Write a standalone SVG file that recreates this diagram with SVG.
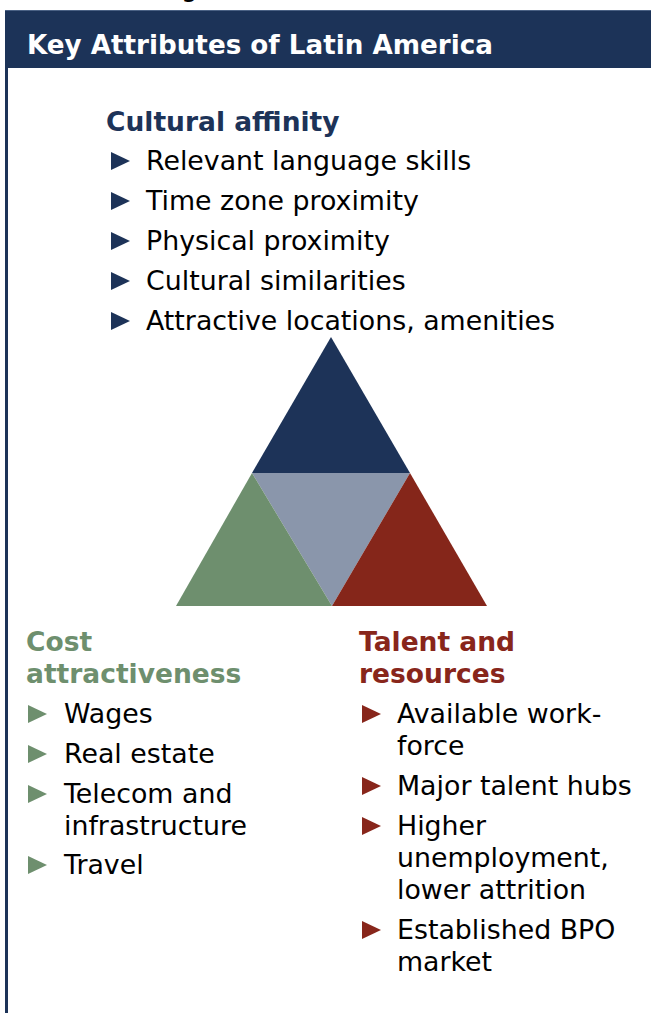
<svg xmlns="http://www.w3.org/2000/svg" width="651" height="1013" viewBox="0 0 651 1013">
  <defs>
    <style>
      .body { font-family: "DejaVu Sans", Verdana, sans-serif; font-size: 26.8px; fill: #000; }
      .head { font-family: "DejaVu Sans", Verdana, sans-serif; font-size: 26.5px; font-weight: bold; }
      .navy { fill: #1d3358; }
      .green { fill: #6e8f6e; }
      .red { fill: #88261b; }
      .title { font-family: "DejaVu Sans", Verdana, sans-serif; font-size: 26.2px; font-weight: bold; fill: #fff; }
    </style>
    <!-- bullet triangle, origin at the left-middle point -->
    <path id="tri" d="M0,-9 L19,0 L0,9 Z"/>
  </defs>

  <rect width="651" height="1013" fill="#fff"/>

  <!-- tail of the line above the panel -->
  <text class="body" x="181" y="-4">g,</text>

  <!-- panel header and frame -->
  <g id="header">
    <rect x="5" y="10" width="646" height="58" fill="#1c3358"/>
    <line x1="5" y1="10.5" x2="651" y2="10.5" stroke="#4a6184" stroke-width="1"/>
    <line x1="6.5" y1="68" x2="6.5" y2="1013" stroke="#1c3358" stroke-width="3"/>
    <text class="title" x="27" y="53.5">Key Attributes of Latin America</text>
  </g>

  <!-- pyramid -->
  <g id="pyramid">
    <polygon points="331,337 252,473 410,473" fill="#1d3358"/>
    <polygon points="252,473 410,473 332,606" fill="#8a96ab"/>
    <polygon points="252,473 176,606 332,606" fill="#6e8f6e"/>
    <polygon points="410,473 332,606 487,606" fill="#85261a"/>
  </g>

  <!-- Cultural affinity -->
  <g id="cultural-affinity">
    <text class="head navy" x="106" y="131">Cultural affinity</text>
    <g class="navy">
      <use href="#tri" x="111" y="161"/>
      <use href="#tri" x="111" y="201"/>
      <use href="#tri" x="111" y="241"/>
      <use href="#tri" x="111" y="281"/>
      <use href="#tri" x="111" y="321"/>
    </g>
    <text class="body" x="146" y="170">Relevant language skills</text>
    <text class="body" x="146" y="210">Time zone proximity</text>
    <text class="body" x="146" y="250">Physical proximity</text>
    <text class="body" x="146" y="290">Cultural similarities</text>
    <text class="body" x="146" y="330">Attractive locations, amenities</text>
  </g>

  <!-- Cost attractiveness -->
  <g id="cost-attractiveness">
    <text class="head green" x="26" y="651">Cost</text>
    <text class="head green" x="26" y="683">attractiveness</text>
    <g class="green">
      <use href="#tri" x="28" y="714"/>
      <use href="#tri" x="28" y="754"/>
      <use href="#tri" x="28" y="794"/>
      <use href="#tri" x="28" y="865"/>
    </g>
    <text class="body" x="64" y="723">Wages</text>
    <text class="body" x="64" y="763">Real estate</text>
    <text class="body" x="64" y="803">Telecom and</text>
    <text class="body" x="64" y="835">infrastructure</text>
    <text class="body" x="64" y="874">Travel</text>
  </g>

  <!-- Talent and resources -->
  <g id="talent-resources">
    <text class="head red" x="359" y="651">Talent and</text>
    <text class="head red" x="359" y="683">resources</text>
    <g class="red">
      <use href="#tri" x="362" y="714"/>
      <use href="#tri" x="362" y="786"/>
      <use href="#tri" x="362" y="826"/>
      <use href="#tri" x="362" y="930"/>
    </g>
    <text class="body" x="397" y="723">Available work-</text>
    <text class="body" x="397" y="755">force</text>
    <text class="body" x="397" y="795">Major talent hubs</text>
    <text class="body" x="397" y="835">Higher</text>
    <text class="body" x="397" y="867">unemployment,</text>
    <text class="body" x="397" y="899">lower attrition</text>
    <text class="body" x="397" y="939">Established BPO</text>
    <text class="body" x="397" y="971">market</text>
  </g>
</svg>
